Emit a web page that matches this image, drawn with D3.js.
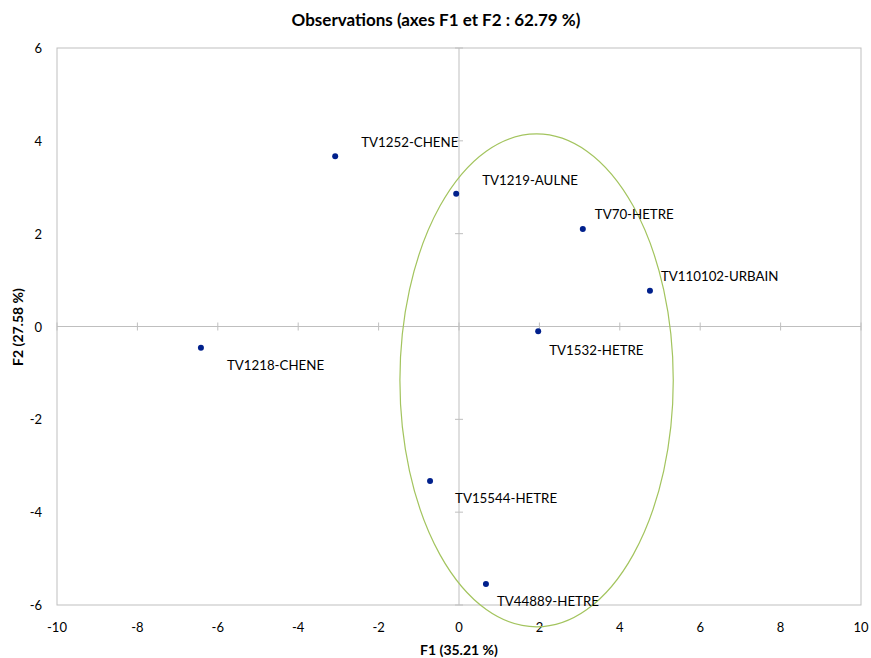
<!DOCTYPE html>
<html><head><meta charset="utf-8">
<script src="https://cdn.jsdelivr.net/npm/d3@7"></script>
<style>body{margin:0;background:#fff}svg{display:block}text{font-family:Lato,"Open Sans",sans-serif}</style>
</head><body><svg id="c" width="871" height="658"></svg>
<script>
const names = ["TV1252-CHENE","TV1219-AULNE","TV70-HETRE","TV110102-URBAIN","TV1532-HETRE","TV1218-CHENE","TV15544-HETRE","TV44889-HETRE"];
const f1 = [-3.08,-0.07,3.08,4.75,1.97,-6.42,-0.72,0.67];
const f2 = [3.67,2.86,2.10,0.77,-0.10,-0.46,-3.33,-5.55];
const xTicks = [-10,-8,-6,-4,-2,0,2,4,6,8,10];
const yTicks = [-6,-4,-2,0,2,4,6];
const ellipse = {cx:1.93, cy:-1.16, rx:3.40, ry:5.31};
const labelDx = [26,26,12,11,11,26,25,11];
const labelDy = [-14,-14,-15,-15,19,17,17,17];

const svg = d3.select("#c");
const x = d3.scaleLinear().domain([-10,10]).range([57,861]);
const y = d3.scaleLinear().domain([-6,6]).range([605,48]);

svg.append("rect").attr("x",x(-10)).attr("y",y(6)).attr("width",x(10)-x(-10)).attr("height",y(-6)-y(6))
  .attr("fill","none").attr("stroke","#bfbfbf").attr("stroke-width",1);

svg.append("line").attr("x1",x(-10)).attr("x2",x(10)).attr("y1",y(0)).attr("y2",y(0)).attr("stroke","#bfbfbf");
svg.append("line").attr("x1",x(0)).attr("x2",x(0)).attr("y1",y(6)).attr("y2",y(-6)).attr("stroke","#bfbfbf");
svg.selectAll(".xt").data(xTicks).join("line").attr("x1",d=>x(d)).attr("x2",d=>x(d)).attr("y1",y(0)-4).attr("y2",y(0)+4).attr("stroke","#bfbfbf");
svg.selectAll(".yt").data(yTicks).join("line").attr("y1",d=>y(d)).attr("y2",d=>y(d)).attr("x1",x(0)-4).attr("x2",x(0)+4).attr("stroke","#bfbfbf");

svg.selectAll(".xl").data(xTicks).join("text").attr("x",d=>x(d)).attr("y",632).attr("text-anchor","middle")
  .attr("font-size",13).attr("fill","#000").text(d=>d);
svg.selectAll(".yl").data(yTicks).join("text").attr("x",42).attr("y",d=>y(d)+5).attr("text-anchor","end")
  .attr("font-size",13).attr("fill","#000").text(d=>d);

svg.append("ellipse").attr("cx",x(ellipse.cx)).attr("cy",y(ellipse.cy))
  .attr("rx",x(ellipse.cx+ellipse.rx)-x(ellipse.cx)).attr("ry",y(ellipse.cy)-y(ellipse.cy+ellipse.ry))
  .attr("fill","none").attr("stroke","#a3c45e").attr("stroke-width",1.2);

const pts = names.map((n,i)=>({n,x:f1[i],y:f2[i],dx:labelDx[i],dy:labelDy[i]}));
svg.selectAll(".pt").data(pts).join("circle").attr("cx",d=>x(d.x)).attr("cy",d=>y(d.y)).attr("r",3).attr("fill","#00208c");
svg.selectAll(".pl").data(pts).join("text").attr("x",d=>x(d.x)+d.dx).attr("y",d=>y(d.y)+d.dy+5)
  .attr("font-size",13.3).attr("fill","#000").text(d=>d.n);

svg.append("text").attr("x",436).attr("y",26).attr("text-anchor","middle").attr("font-size",17).attr("font-weight","bold").text("Observations (axes F1 et F2 : 62.79 %)");
svg.append("text").attr("x",459).attr("y",655).attr("text-anchor","middle").attr("font-size",14).attr("font-weight","bold").text("F1 (35.21 %)");
svg.append("text").attr("transform","translate(23,327) rotate(-90)").attr("text-anchor","middle").attr("font-size",14).attr("font-weight","bold").text("F2 (27.58 %)");
</script></body></html>
